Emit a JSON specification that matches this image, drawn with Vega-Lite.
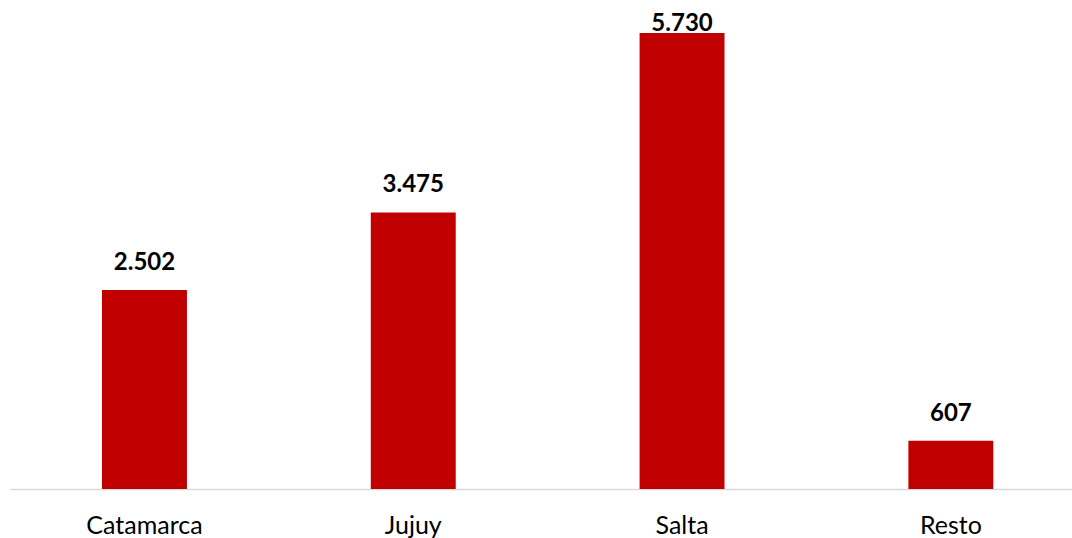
{
  "$schema": "https://vega.github.io/schema/vega-lite/v6.json",
  "width": 1062,
  "height": 489,
  "padding": {"left": 10, "top": 0, "right": 0, "bottom": 49},
  "autosize": "none",
  "background": "white",
  "config": {"view": {"stroke": null}, "font": "Lato"},
  "data": {"values": [
    {"region": "Catamarca", "value": 2502, "label": "2.502"},
    {"region": "Jujuy", "value": 3475, "label": "3.475"},
    {"region": "Salta", "value": 5730, "label": "5.730"},
    {"region": "Resto", "value": 607, "label": "607"}
  ]},
  "encoding": {
    "x": {"field": "region", "type": "nominal", "sort": null,
      "scale": {"paddingInner": 0.684, "paddingOuter": 0.3175, "align": 0.539},
      "axis": {"title": null, "labelAngle": 0, "ticks": false, "domainColor": "#d9d9d9", "domainWidth": 1.5,
        "labelFont": "Lato", "labelFontSize": 25, "labelColor": "#000000", "labelBaseline": "alphabetic", "labelPadding": 44}},
    "y": {"field": "value", "type": "quantitative", "scale": {"domain": [0, 6145], "nice": false}, "axis": null}
  },
  "layer": [
    {"mark": {"type": "bar", "color": "#C00000"}},
    {"transform": [{"filter": "datum.region != 'Salta'"}],
     "mark": {"type": "text", "font": "Lato", "fontWeight": "bold", "fontSize": 24, "dy": -20, "baseline": "alphabetic", "color": "#000000"},
     "encoding": {"text": {"field": "label"}}},
    {"transform": [{"filter": "datum.region == 'Salta'"}],
     "mark": {"type": "text", "font": "Lato", "fontWeight": "bold", "fontSize": 24, "dy": -2, "baseline": "alphabetic", "color": "#000000"},
     "encoding": {"text": {"field": "label"}}}
  ]
}
